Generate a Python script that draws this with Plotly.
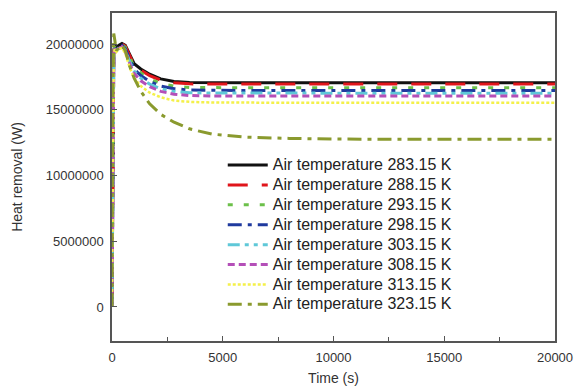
import plotly.graph_objects as go

time_s = [0, 30, 80, 120, 200, 300, 450, 600, 800, 1000, 1300, 1700, 2200, 2800, 3500, 4500, 6000, 8000, 10000, 14000, 20000]

names = ["Air temperature 283.15 K", "Air temperature 288.15 K", "Air temperature 293.15 K",
         "Air temperature 298.15 K", "Air temperature 303.15 K", "Air temperature 308.15 K",
         "Air temperature 313.15 K", "Air temperature 323.15 K"]

q_283 = [0, 12.0e6, 19.5e6, 19.9e6, 19.7e6, 19.9e6, 20.05e6, 19.9e6, 19.2e6, 18.5e6, 18.1e6, 17.7e6, 17.35e6, 17.15e6, 17.08e6, 17.06e6, 17.05e6, 17.05e6, 17.05e6, 17.05e6, 17.05e6]
q_288 = [0, 11.5e6, 19.4e6, 19.85e6, 19.65e6, 19.85e6, 20.0e6, 19.85e6, 19.1e6, 18.4e6, 18.0e6, 17.6e6, 17.25e6, 17.05e6, 16.97e6, 16.95e6, 16.95e6, 16.95e6, 16.95e6, 16.95e6, 16.95e6]
q_293 = [0, 11.0e6, 19.3e6, 19.8e6, 19.6e6, 19.8e6, 19.95e6, 19.75e6, 18.95e6, 18.25e6, 17.8e6, 17.35e6, 17.0e6, 16.8e6, 16.7e6, 16.68e6, 16.67e6, 16.67e6, 16.67e6, 16.67e6, 16.67e6]
q_298 = [0, 10.5e6, 19.2e6, 19.75e6, 19.55e6, 19.75e6, 19.9e6, 19.65e6, 18.8e6, 18.1e6, 17.6e6, 17.15e6, 16.8e6, 16.6e6, 16.5e6, 16.47e6, 16.46e6, 16.46e6, 16.46e6, 16.46e6, 16.46e6]
q_303 = [0, 10.0e6, 19.1e6, 19.7e6, 19.5e6, 19.7e6, 19.85e6, 19.55e6, 18.65e6, 17.95e6, 17.4e6, 16.95e6, 16.6e6, 16.4e6, 16.3e6, 16.27e6, 16.26e6, 16.26e6, 16.26e6, 16.26e6, 16.26e6]
q_308 = [0, 9.5e6, 19.0e6, 19.65e6, 19.45e6, 19.65e6, 19.8e6, 19.45e6, 18.5e6, 17.75e6, 17.2e6, 16.75e6, 16.4e6, 16.18e6, 16.08e6, 16.05e6, 16.04e6, 16.04e6, 16.04e6, 16.04e6, 16.04e6]
q_313 = [0, 9.0e6, 18.9e6, 19.6e6, 19.4e6, 19.6e6, 19.7e6, 19.3e6, 18.2e6, 17.4e6, 16.8e6, 16.3e6, 15.95e6, 15.7e6, 15.6e6, 15.55e6, 15.53e6, 15.53e6, 15.53e6, 15.53e6, 15.53e6]
q_323 = [0, 15.0e6, 20.8e6, 20.3e6, 19.5e6, 19.7e6, 19.9e6, 19.5e6, 18.3e6, 17.4e6, 16.4e6, 15.45e6, 14.65e6, 14.05e6, 13.55e6, 13.15e6, 12.92e6, 12.82e6, 12.77e6, 12.75e6, 12.75e6]

series = [q_283, q_288, q_293, q_298, q_303, q_308, q_313, q_323]
colors = ["#111111", "#e0151b", "#6cc04a", "#1f3a9e", "#5fc8d8", "#b44fb8", "#f4f04a", "#8a9a2e"]
dashes = ["solid", "20px,14px", "5px,11px", "14px,6px,4px,6px", "12px,5px,4px,5px,4px,5px", "7px,4px", "3px,2px", "14px,6px,4px,6px"]
widths = [3, 3, 3, 3, 3, 3, 2.5, 3]

fig = go.Figure()
for i, (nm, q) in enumerate(zip(names, series)):
    fig.add_trace(go.Scatter(x=time_s, y=q, name=f'<span style="font-size:16px">{nm}</span>',
                             mode="lines",
                             line=dict(color=colors[i], dash=dashes[i], width=widths[i])))

axis_common = dict(showline=True, linecolor="#555555", linewidth=1.5, mirror=True,
                   ticks="inside", ticklen=5, tickcolor="#555555", tickwidth=1.2,
                   showgrid=False, zeroline=False, tickformat="d", automargin=False,
                   ticklabelstandoff=4,
                   tickfont=dict(size=13, color="#333333"))

fig.update_layout(
    width=574, height=389,
    margin=dict(l=112, r=19, t=13, b=48),
    paper_bgcolor="white", plot_bgcolor="white",
    font=dict(family="Liberation Sans, Arial, sans-serif", color="#333333"),
    xaxis=dict(range=[0, 20000], dtick=5000, tick0=0,
               minor=dict(dtick=2500, ticks="inside", ticklen=4, tickcolor="#555555"),
               title=dict(text="Time (s)", font=dict(size=14), standoff=9),
               **axis_common),
    yaxis=dict(range=[-2.59e6, 22.36e6], dtick=5e6, tick0=0,
               title=dict(text="Heat removal (W)", font=dict(size=14), standoff=20),
               **axis_common),
    legend=dict(x=0.25, y=0.582, xanchor="left", yanchor="top",
                bgcolor="rgba(0,0,0,0)", font=dict(size=13, color="#222222"),
                tracegroupgap=0, itemwidth=40),
    showlegend=True,
)

fig.write_html("out.html")
